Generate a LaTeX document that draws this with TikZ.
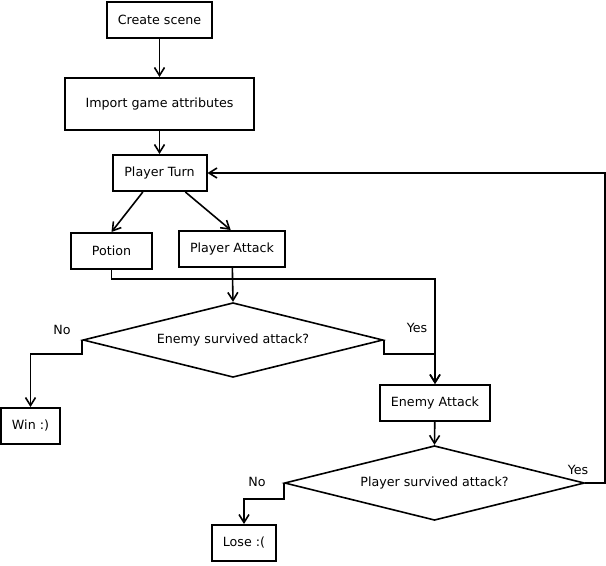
\documentclass[tikz,border=0pt]{standalone}
\usepackage{fontspec}
\setmainfont{DejaVu Sans}
\usetikzlibrary{arrows.meta, positioning, shapes.geometric}

\begin{document}
\begin{tikzpicture}[
        x=0.75pt, y=-0.75pt,
        font=\fontsize{9.5}{11}\selectfont,
        box/.style={rectangle, draw=black, line width=1.5pt,
                    minimum height=27pt, align=center, inner sep=2pt},
        decision/.style={diamond, aspect=4, draw=black, line width=1.2pt,
                    minimum width=225pt, minimum height=56pt, inner sep=0pt},
        arrow/.style={-{Straight Barb[length=6pt, width=7.5pt]}, line width=1.2pt},
        lbl/.style={inner sep=0pt},
    ]
    \useasboundingbox (0,0) rectangle (606,565);

    % main column
    \node[box, minimum width=79pt] (create) at (159.5,20) {Create scene};
    \node[box, minimum width=142pt, minimum height=39pt,
          below=28.5pt of create] (import) {Import game attributes};
    \node[box, minimum width=70.5pt, below=17.25pt of import] (turn) {Player Turn};
    \draw[arrow] (create) -- (import);
    \draw[arrow] (import) -- (turn);

    % player choices
    \node[box, minimum width=61pt] (potion) at (111.5,251) {Potion};
    \node[box, minimum width=79.5pt] (pattack) at (232,249) {Player Attack};
    \draw[arrow] ([xshift=-12.5pt]turn.south) -- (potion.north);
    \draw[arrow] ([xshift=19.4pt]turn.south) -- ([xshift=-1pt]pattack.north);

    % first decision
    \node[decision] (enemyq) at (233,340) {Enemy survived attack?};
    \node[box, minimum width=82.5pt] (eattack) at (435,403) {Enemy Attack};
    \node[box, minimum width=44.5pt] (win) at (30.5,426) {Win :)};
    \draw[arrow] (pattack) -- (enemyq.north);
    \draw[arrow] (potion.south) -- ++(0,9) -| (eattack.north);
    \draw[arrow] (enemyq.east) -- ++(0,14) -| (eattack.north);
    \draw[arrow] (enemyq.west) -- ++(0,14) -| (win.north);
    \node[lbl] (no1) at (62,330) {No};
    \node[lbl] (yes1) at (417,328) {Yes};

    % second decision
    \node[decision] (playerq) at (434.5,483) {Player survived attack?};
    \node[box, minimum width=48pt] (lose) at (244,543) {Lose :(};
    \coordinate (loop) at (turn.east -| 604.7,0);
    \draw[arrow] (eattack) -- (playerq.north);
    \draw[arrow] (playerq.east) -| (loop) -- (turn.east);
    \draw[arrow] (playerq.west) -- ++(0,16) -| (lose.north);
    \node[lbl] (no2) at (257,482) {No};
    \node[lbl] (yes2) at (578,470) {Yes};

\end{tikzpicture}
\end{document}
